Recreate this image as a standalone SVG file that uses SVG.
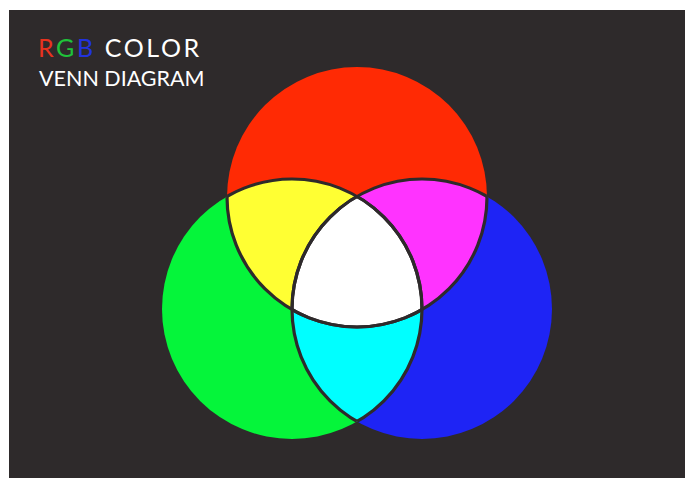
<svg xmlns="http://www.w3.org/2000/svg" width="693" height="490" viewBox="0 0 693 490">
<style>
.t{font-family:Lato,"Open Sans","Liberation Sans",sans-serif;}
.edge{fill:none;stroke:#2e2a2b;stroke-width:3.2;}
</style>
<defs>
<clipPath id="cR"><circle cx="357" cy="197" r="130"/></clipPath>
<clipPath id="cG"><circle cx="292" cy="309" r="130"/></clipPath>
<clipPath id="cB"><circle cx="422" cy="309" r="130"/></clipPath>
</defs>
<rect x="0" y="0" width="693" height="490" fill="#ffffff"/>
<rect x="9" y="10" width="676" height="468" fill="#2e2a2b"/>
<g id="title">
<text class="t" x="38" y="57" font-size="25" letter-spacing="2.6" fill="#ffffff"><tspan fill="#e8321e">R</tspan><tspan fill="#1fc23a">G</tspan><tspan fill="#2233dd">B</tspan> COLOR</text>
<text class="t" x="39" y="86" font-size="21.5" fill="#ffffff">VENN DIAGRAM</text>
</g>
<g id="red"><circle cx="357" cy="197" r="130" fill="#ff2a04"/></g>
<g id="green"><circle cx="292" cy="309" r="130" fill="#05f53a"/></g>
<g id="blue"><circle cx="422" cy="309" r="130" fill="#1e24f5"/></g>
<g id="yellow"><circle cx="292" cy="309" r="130" fill="#ffff33" clip-path="url(#cR)"/></g>
<g id="magenta"><circle cx="422" cy="309" r="130" fill="#ff33ff" clip-path="url(#cR)"/></g>
<g id="cyan"><circle cx="422" cy="309" r="130" fill="#00ffff" clip-path="url(#cG)"/></g>
<g id="white"><g clip-path="url(#cB)"><circle cx="292" cy="309" r="130" fill="#ffffff" clip-path="url(#cR)"/></g></g>
<g id="outlines">
<circle class="edge" cx="357" cy="197" r="130" clip-path="url(#cG)"/>
<circle class="edge" cx="357" cy="197" r="130" clip-path="url(#cB)"/>
<circle class="edge" cx="292" cy="309" r="130" clip-path="url(#cR)"/>
<circle class="edge" cx="292" cy="309" r="130" clip-path="url(#cB)"/>
<circle class="edge" cx="422" cy="309" r="130" clip-path="url(#cR)"/>
<circle class="edge" cx="422" cy="309" r="130" clip-path="url(#cG)"/>
</g>
</svg>
